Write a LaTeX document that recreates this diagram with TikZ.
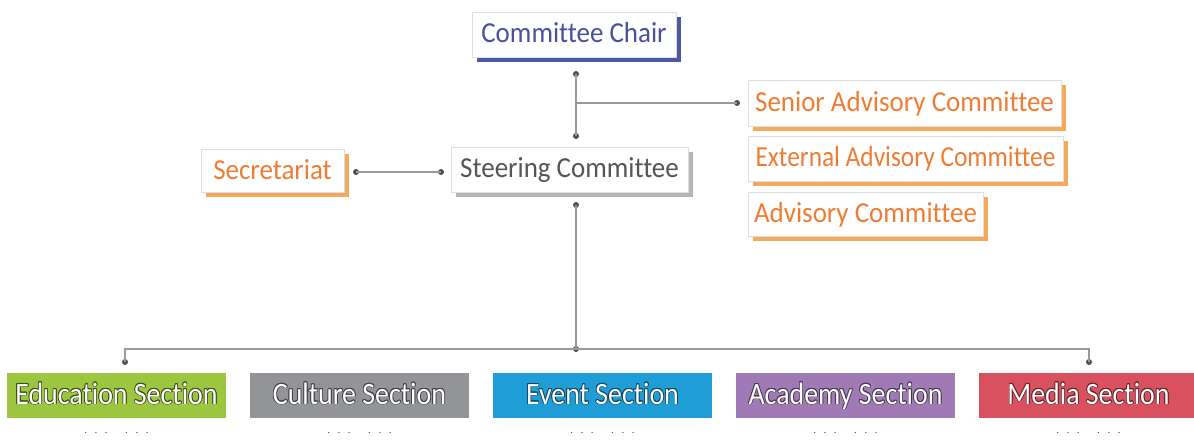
\documentclass[tikz,border=0pt]{standalone}
\usepackage{fontspec}
\setmainfont{Carlito}[Ligatures=NoCommon]
\newfontfamily\cardfont{Carlito}[FakeStretch=0.93, Ligatures=NoCommon]
\newfontfamily\narrowcardfont{Carlito}[FakeStretch=0.875, Ligatures=NoCommon]
\newfontfamily\sectionfont{Carlito}[FakeStretch=0.9, Ligatures=NoCommon]
\usepackage{contour}
\usetikzlibrary{positioning,shadows}
\contourlength{0.7pt}

\definecolor{chairblue}{HTML}{4A509E}
\definecolor{chairshadow}{HTML}{4B5AA7}
\definecolor{advorange}{HTML}{F07C33}
\definecolor{advshadow}{HTML}{F5A95B}
\definecolor{steertext}{HTML}{555555}
\definecolor{steershadow}{HTML}{B4B5BB}
\definecolor{linegray}{HTML}{9A9A9A}
\definecolor{jointgray}{HTML}{4F4F4F}
\definecolor{secgreen}{HTML}{9CC540}
\definecolor{secgray}{HTML}{939497}
\definecolor{secblue}{HTML}{1F9DD7}
\definecolor{secpurple}{HTML}{9F7AB4}
\definecolor{secred}{HTML}{D9505F}

\tikzstyle{card} = [rectangle, minimum height=45pt, inner xsep=0pt, inner ysep=0pt, text height=21pt, text depth=4pt, text centered, draw=black!13, fill=white, font=\cardfont\fontsize{29}{32}\selectfont]
\tikzstyle{chaircard} = [card, text=chairblue, drop shadow={shadow xshift=5pt, shadow yshift=-5pt, fill=chairshadow, opacity=1}]
\tikzstyle{advcard} = [card, text=advorange, drop shadow={shadow xshift=5pt, shadow yshift=-5pt, fill=advshadow, opacity=1}]
\tikzstyle{steercard} = [card, text=steertext, drop shadow={shadow xshift=5pt, shadow yshift=-5pt, fill=steershadow, opacity=1}]
\tikzstyle{section} = [rectangle, minimum width=219pt, minimum height=45pt, inner xsep=0pt, inner ysep=0pt, text height=21pt, text depth=4pt, text centered, text=white, font=\sectionfont\fontsize{31}{34}\selectfont]
\tikzstyle{wire} = [draw=linegray, line width=1.5pt]
\tikzstyle{joint} = [circle, fill=jointgray, inner sep=0pt, minimum size=6pt]
\tikzstyle{more} = [text=jointgray, font=\fontsize{9}{9}\selectfont, inner sep=0pt]

\begin{document}
\begin{tikzpicture}[x=1pt, y=1pt, node distance=243pt]

    \useasboundingbox (0,0) rectangle (1194,-441);

    % Draw nodes
    \node (chair) [chaircard, minimum width=204pt] at (574,-34.5) {Committee Chair};
    \node (steering) [steercard, minimum width=237pt] at (569.5,-169.5) {Steering Committee};
    \node (secretariat) [advcard, minimum width=143pt, minimum height=43pt] at (272.5,-170.5) {Secretariat};
    \node (senior) [advcard, minimum width=313pt, minimum height=46pt] at (904.5,-103) {Senior Advisory Committee};
    \node (external) [advcard, minimum width=315pt, font=\narrowcardfont\fontsize{29}{32}\selectfont] at (905.5,-158.5) {External Advisory Committee};
    \node (advisory) [advcard, minimum width=235pt, minimum height=44pt] at (865.5,-214) {Advisory Committee};

    \node (education) [section, fill=secgreen] at (116.5,-395.5) {\contour{secgreen!40!black}{Education Section}};
    \node (culture) [section, fill=secgray, right of=education] {\contour{secgray!45!black}{Culture Section}};
    \node (event) [section, fill=secblue, right of=culture] {\contour{secblue!45!black}{Event Section}};
    \node (academy) [section, fill=secpurple, right of=event] {\contour{secpurple!45!black}{Academy Section}};
    \node (media) [section, fill=secred, right of=academy] {\contour{secred!45!black}{Media Section}};

    % Draw joints
    \node (chairjoint) [joint] at (576,-74) {};
    \node (steertop) [joint] at (576,-136) {};
    \node (seniorjoint) [joint] at (737,-103) {};
    \node (secjoint) [joint] at (356,-172) {};
    \node (steerleft) [joint] at (441,-172) {};
    \node (steerbottom) [joint] at (576,-205) {};
    \node (hub) [joint] at (576,-349) {};
    \node (edujoint) [joint] at (125,-362) {};
    \node (mediajoint) [joint] at (1089,-362) {};
    \coordinate (branch) at (576,-103);

    % Draw connections
    \draw [wire] (chairjoint.center) -- (steertop.center);
    \draw [wire] (branch) -- (seniorjoint.center);
    \draw [wire] (secjoint.center) -- (steerleft.center);
    \draw [wire] (steerbottom.center) -- (hub.center);
    \draw [wire] (edujoint.center) |- (hub.center) -| (mediajoint.center);

    % Cut-off lines below the sections
    \foreach \sec in {education, culture, event, academy, media}
        \node [more, below=14pt of \sec.south] {·\hspace{8pt}·\hspace{8pt}·\hspace{18pt}·\hspace{8pt}·\hspace{8pt}·};

\end{tikzpicture}
\end{document}
